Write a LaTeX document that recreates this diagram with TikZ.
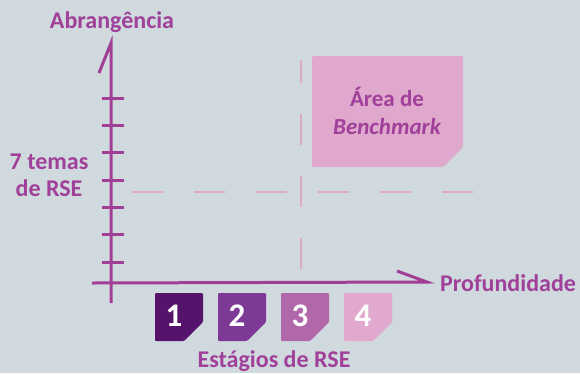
\documentclass[tikz,border=0pt]{standalone}
\usepackage{fontspec}
\setmainfont{Carlito}
\definecolor{bg}{HTML}{D0D9DE}
\definecolor{txt}{HTML}{A0409A}
\definecolor{axis}{HTML}{A23E96}
\definecolor{light}{HTML}{DFA8CC}
\definecolor{s1}{HTML}{56136B}
\definecolor{s2}{HTML}{7C3995}
\definecolor{s3}{HTML}{B068AB}
\definecolor{s4}{HTML}{E0A9CD}
\begin{document}
\begin{tikzpicture}[x=1pt,y=-1pt,
  lbl/.style={text=txt,font=\bfseries\fontsize{24}{27}\selectfont,inner sep=0pt,align=center},
  axisline/.style={draw=axis,line width=3pt},
  dashline/.style={draw=light,line width=2.7pt,dash pattern=on 31pt off 31pt},
  numtxt/.style={text=white,font=\bfseries\fontsize{33}{33}\selectfont,inner sep=0pt}]
\fill[bg] (0,0) rectangle (580,373);
\useasboundingbox (0,0) rectangle (580,373);
% dashed guide lines
\draw[dashline] (132,192) -- (480,192);
\draw[dashline,dash phase=8pt] (301,60) -- (301,275);
% benchmark box
\fill[light,rounded corners=1.5pt] (312,56) -- (463,56) -- (463,147) -- (443,167) -- (312,167) -- cycle;
\node[lbl,font=\bfseries\fontsize{23}{28}\selectfont] (bench) at (387,111) {Área de\\\itshape Benchmark};
% axes
\coordinate (ytop) at (111,43);
\coordinate (ybot) at (111,303);
\coordinate (xl) at (92,283);
\coordinate (xr) at (427,282);
\draw[axisline] (ybot) -- (ytop) -- (99,73);
\draw[axisline] (xl) -- (xr) -- (397,271);
\foreach \yy in {98,125.3,152.7,180,207.3,234.7,262}
  \draw[axisline] (101.5,\yy) -- (124,\yy);
% labels
\node[lbl] (abr) at (112,22) {Abrangência};
\node[lbl] (temas) at (49,175) {7 temas\\de RSE};
\node[lbl,anchor=west] (prof) at (440,283) {Profundidade};
% stage boxes
\foreach \x/\c/\n in {155/s1/1,218/s2/2,281/s3/3,344/s4/4}{
  \fill[\c,rounded corners=1pt] (\x,293) -- (\x+48,293) -- (\x+48,322) -- (\x+29,341) -- (\x,341) -- cycle;
  \node[numtxt] (n\n) at (\x+19,316) {\n};
}
\node[lbl] (est) at (274,361) {Estágios de RSE};
\end{tikzpicture}
\end{document}
